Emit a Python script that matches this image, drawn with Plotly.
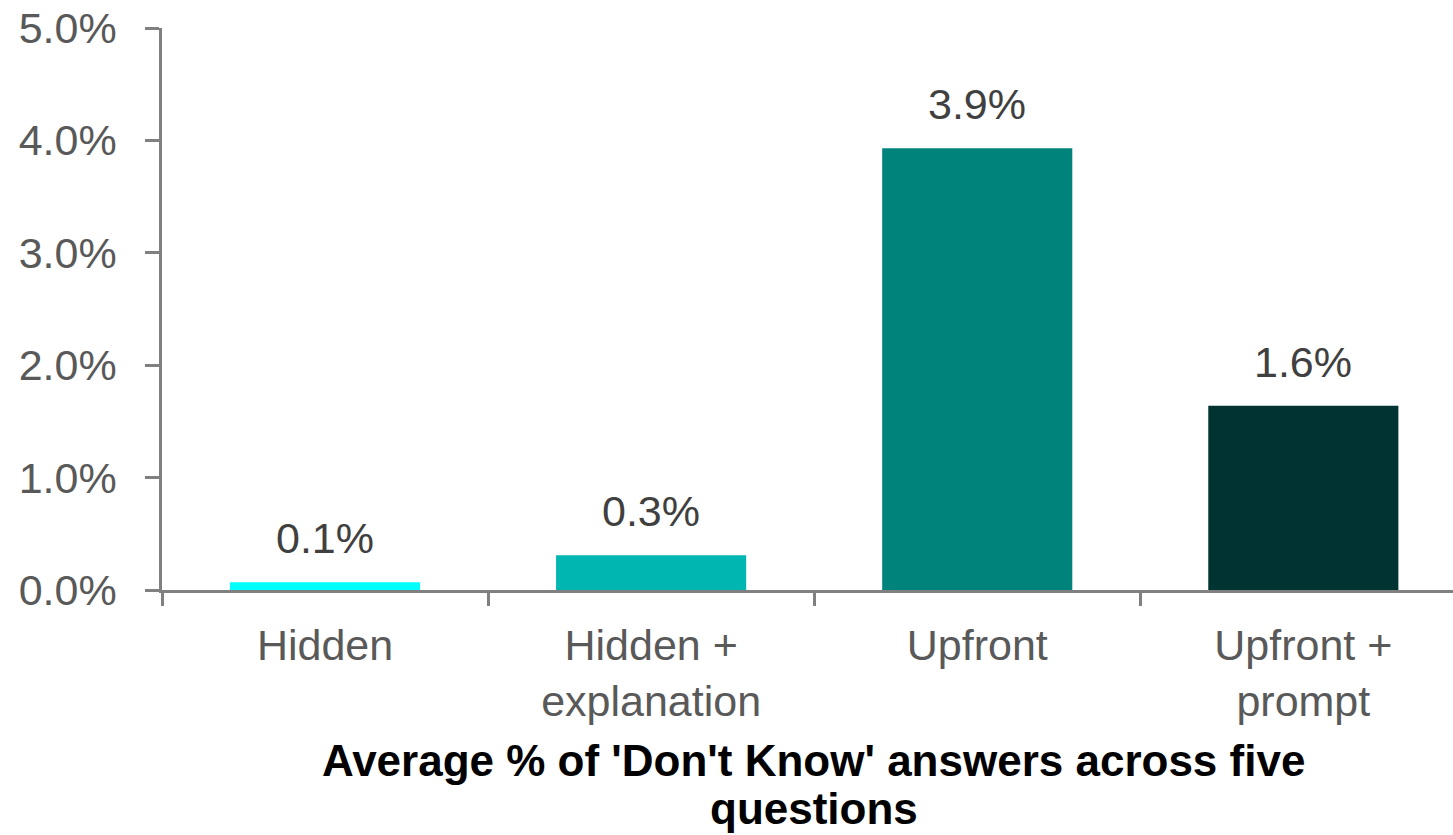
import plotly.graph_objects as go

categories = ["Hidden", "Hidden +<br>explanation", "Upfront", "Upfront +<br>prompt"]
values = [0.07, 0.31, 3.93, 1.64]
labels = ["0.1%", "0.3%", "3.9%", "1.6%"]
colors = ["#00FFFF", "#00B6B1", "#00837B", "#003331"]
y_ticks = [0, 1, 2, 3, 4, 5]
y_tick_text = ["0.0%", "1.0%", "2.0%", "3.0%", "4.0%", "5.0%"]
x_title_lines = ["Average % of 'Don't Know' answers across five", "questions"]

FONT = "Liberation Sans, Arial, Helvetica, sans-serif"

fig = go.Figure()
fig.add_trace(go.Bar(
    x=categories, y=values,
    marker=dict(color=colors, line=dict(width=0)),
    hoverinfo="skip",
))

for c, v, t in zip(categories, values, labels):
    fig.add_annotation(x=c, y=v, text=t, showarrow=False, yanchor="bottom",
                       yshift=18, font=dict(family=FONT, size=43, color="#404040"))

# x-axis title, two lines with the reference's tighter line spacing
for i, line in enumerate(x_title_lines):
    fig.add_annotation(xref="paper", yref="paper", x=0.505, y=0,
                       xanchor="center", yanchor="middle", yshift=-170 - 48 * i,
                       text="<b>" + line + "</b>", showarrow=False,
                       font=dict(family=FONT, size=44, color="#000000"))

fig.update_layout(
    width=1453, height=835,
    margin=dict(l=162, r=0, t=28, b=245, autoexpand=False),
    paper_bgcolor="white", plot_bgcolor="white",
    bargap=0.417,
    showlegend=False,
    font=dict(family=FONT, size=43, color="#595959"),
    xaxis=dict(
        range=[-0.5, 3.459],
        automargin=False,
        showline=True, linecolor="#808080", linewidth=2.5,
        ticks="outside", ticklen=13, tickwidth=2.5, tickcolor="#808080",
        tickson="boundaries",
        tickfont=dict(family=FONT, size=43, color="#595959"),
        ticklabelstandoff=16,
        ticklabeloverflow="allow",
        showgrid=False, zeroline=False, fixedrange=True,
    ),
    yaxis=dict(
        range=[0, 5],
        automargin=False,
        tickvals=y_ticks, ticktext=y_tick_text,
        showline=True, linecolor="#808080", linewidth=2.5,
        ticks="outside", ticklen=14, tickwidth=2.5, tickcolor="#808080",
        tickfont=dict(family=FONT, size=43, color="#595959"),
        ticklabelstandoff=20,
        ticklabeloverflow="allow",
        showgrid=False, zeroline=False, fixedrange=True,
    ),
)

fig.write_html("out.html", config={"displayModeBar": False},
               post_script="document.body.style.margin='0';")
